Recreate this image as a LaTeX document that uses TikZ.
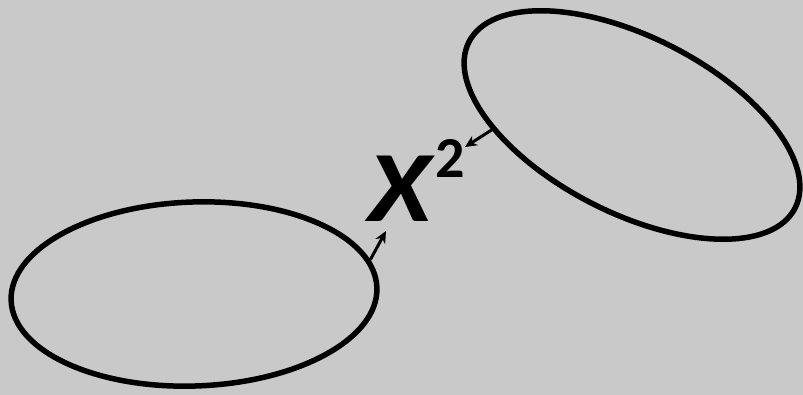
\documentclass[tikz,border=0pt]{standalone}
\usepackage{fontspec}
\setmainfont{Carlito}
\usetikzlibrary{shapes.geometric, arrows.meta}
\definecolor{halftone}{gray}{0.79}
\tikzset{
  blob/.style={draw, ellipse, line width=5.5pt, inner sep=0pt},
  link/.style={line width=3pt, -{Stealth[length=12pt, width=11pt]}}
}

\begin{document}
\begin{tikzpicture}[x=1pt, y=-1pt]
  \fill[halftone] (0,0) rectangle (803,395);
  \useasboundingbox (0,0) rectangle (803,395);
  \node[blob, minimum width=366pt, minimum height=184pt, rotate=2] (left) at (194,294) {};
  \node[blob, minimum width=366pt, minimum height=176pt, rotate=-27] (right) at (632,125) {};
  \node[anchor=base west, inner sep=0pt] (chisq) at (368,222)
    {\scalebox{1.13}[1]{\fontsize{101}{101}\selectfont\bfseries\itshape X}\hspace{4pt}{\fontsize{58}{58}\selectfont\bfseries\raisebox{44pt}{2}}};
  \coordinate (intip) at (386,231);
  \coordinate (outtip) at (465,147);
  \draw[link] (left.9) -- (intip);
  \draw[link] (right.209) -- (outtip);
\end{tikzpicture}
\end{document}
